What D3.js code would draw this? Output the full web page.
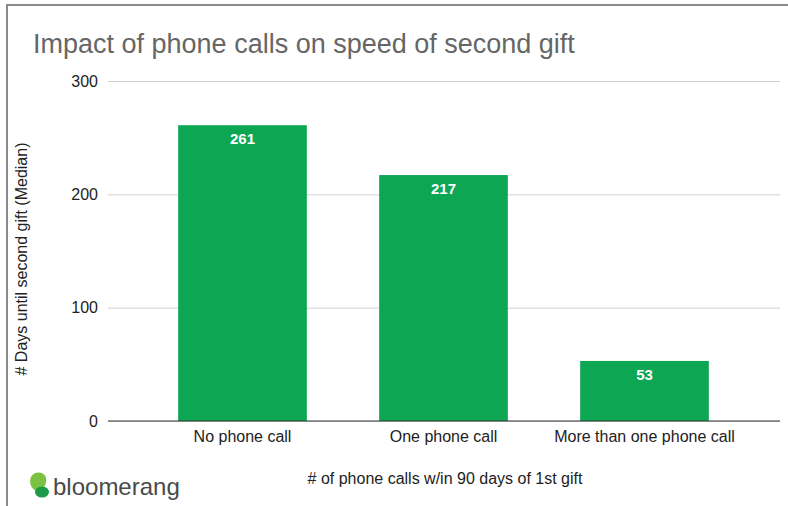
<!DOCTYPE html>
<html>
<head>
<meta charset="utf-8">
<script src="https://cdn.jsdelivr.net/npm/d3@7"></script>
<style>
  body { margin: 0; background: #fff; }
  text { font-family: "Liberation Sans", Arial, sans-serif; }
</style>
</head>
<body>
<svg id="chart" width="788" height="506"></svg>
<script>
// data
var categories = ["No phone call", "One phone call", "More than one phone call"];
var days = [261, 217, 53];
var yTicks = [0, 100, 200, 300];

var svg = d3.select("#chart");

// frame around the screenshot
svg.append("path")
    .attr("d", "M7,506 V5 H788")
    .attr("fill", "none")
    .attr("stroke", "#8a8a8a")
    .attr("stroke-width", 2);

// scales
var x = d3.scaleBand().domain(categories).range([142, 745]).paddingInner(0.36).paddingOuter(0.18);
var y = d3.scaleLinear().domain([0, 300]).range([421, 81]);

// title
svg.append("text")
    .attr("x", 33).attr("y", 53)
    .attr("font-size", 27)
    .attr("fill", "#666")
    .text("Impact of phone calls on speed of second gift");

// gridlines + y labels
var yAxis = svg.append("g")
    .attr("transform", "translate(108,0)")
    .call(d3.axisLeft(y).tickValues(yTicks).tickSize(-672).tickPadding(10));
yAxis.select(".domain").remove();
yAxis.selectAll(".tick line").attr("stroke", "#d0d0d0");
yAxis.selectAll(".tick text")
    .attr("font-size", 16)
    .attr("fill", "#222")
    .attr("font-family", "Liberation Sans, Arial, sans-serif");

// bars
svg.append("g").selectAll("rect")
    .data(days)
    .join("rect")
    .attr("x", function (d, i) { return x(categories[i]); })
    .attr("y", function (d) { return y(d); })
    .attr("width", x.bandwidth())
    .attr("height", function (d) { return y(0) - y(d); })
    .attr("fill", "#0da652");

// value labels
svg.append("g").selectAll("text")
    .data(days)
    .join("text")
    .attr("x", function (d, i) { return x(categories[i]) + x.bandwidth() / 2; })
    .attr("y", function (d) { return y(d) + 19; })
    .attr("text-anchor", "middle")
    .attr("font-size", 15)
    .attr("font-weight", "bold")
    .attr("fill", "#fff")
    .text(function (d) { return d; });

// baseline
svg.append("line")
    .attr("x1", 108).attr("x2", 780)
    .attr("y1", y(0)).attr("y2", y(0))
    .attr("stroke", "#333").attr("stroke-width", 1.2);

// x category labels
var xAxis = svg.append("g")
    .attr("transform", "translate(0," + y(0) + ")")
    .call(d3.axisBottom(x).tickSize(0).tickPadding(10));
xAxis.select(".domain").remove();
xAxis.selectAll(".tick text")
    .attr("font-size", 16)
    .attr("fill", "#222")
    .attr("font-family", "Liberation Sans, Arial, sans-serif");

// axis titles
svg.append("text")
    .attr("transform", "translate(27,259) rotate(-90)")
    .attr("text-anchor", "middle")
    .attr("font-size", 16)
    .attr("fill", "#222")
    .text("# Days until second gift (Median)");

svg.append("text")
    .attr("x", 445).attr("y", 484)
    .attr("text-anchor", "middle")
    .attr("font-size", 16)
    .attr("fill", "#222")
    .text("# of phone calls w/in 90 days of 1st gift");

// bloomerang logo
var logo = svg.append("g").attr("transform", "translate(29,472)");
logo.append("path")
    .attr("d", "M2,5 C5,-1 15,-1 17,6 C18,12 15,17 10,19 C4,20 -1,12 2,5 Z")
    .attr("fill", "#7cc242");
logo.append("ellipse")
    .attr("cx", 13).attr("cy", 20).attr("rx", 7).attr("ry", 5.5)
    .attr("fill", "#1b9a4a");
logo.append("text")
    .attr("x", 24).attr("y", 23)
    .attr("font-family", "Lato, 'Noto Sans', sans-serif")
    .attr("font-size", 24)
    .attr("fill", "#4a4a4a")
    .text("bloomerang");
</script>
</body>
</html>
